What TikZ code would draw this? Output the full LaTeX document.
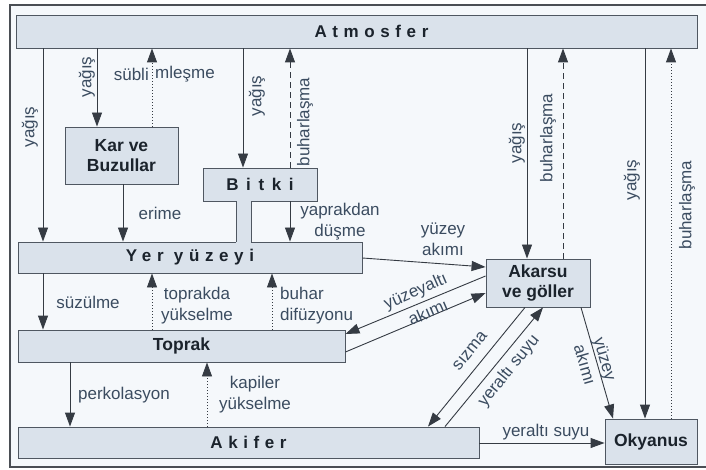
\documentclass[tikz,border=0pt]{standalone}
\usepackage{fontspec}
\setmainfont{Liberation Sans}
\usetikzlibrary{arrows.meta}
\definecolor{boxfill}{HTML}{DAE2EB}
\definecolor{boxline}{HTML}{4F5761}
\definecolor{boxtext}{HTML}{1B232C}
\definecolor{lineclr}{HTML}{353B43}
\definecolor{lblclr}{HTML}{3B4C60}
\definecolor{bgc}{HTML}{F5F8FB}
\definecolor{framec}{HTML}{4A4E54}
\begin{document}
\begin{tikzpicture}[x=1pt,y=-1pt,
  box/.style={draw=boxline, fill=boxfill, line width=0.9pt, inner sep=0pt, text=boxtext, align=center,
    font=\fontsize{17.5}{20}\selectfont\bfseries},
  titlebox/.style={box, font=\fontsize{17}{19}\selectfont\bfseries\addfontfeature{LetterSpace=33}},
  flow/.style={draw=lineclr, line width=0.9pt, -{Triangle[length=14pt,width=10pt]}},
  evap/.style={flow, dash pattern=on 6pt off 4pt},
  dots/.style={flow, dash pattern=on 1pt off 2pt},
  lbl/.style={text=lblclr, font=\fontsize{17}{21}\selectfont, inner sep=0pt, align=center}]
\useasboundingbox (0,0) rectangle (706,470);
\clip (0,0) rectangle (706,470);
\fill[white] (0,0) rectangle (706,470);
\fill[bgc] (10,5) rectangle (720,467);
\draw[line width=1.3pt, draw=framec] (720,5) -- (10,5) -- (10,467) -- (720,467);

% boxes
\node[titlebox, minimum width=681pt, minimum height=33pt] (atm) at (356.5,31.5) {\hspace*{30pt}Atmosfer};
\node[box, minimum width=113pt, minimum height=57pt] (kar) at (121.5,155.5) {Kar ve\\Buzullar};
\node[titlebox, minimum width=344pt, minimum height=31pt] (yer) at (190,257.5) {Yer yüzeyi};
\node[titlebox, minimum width=114pt, minimum height=33pt] (bitki) at (260,184.5) {\addfontfeature{LetterSpace=45}Bitki};
\node[box, minimum width=104pt, minimum height=48pt] (akarsu) at (538,283) {Akarsu\\ve göller};
\node[box, minimum width=327pt, minimum height=32pt] (toprak) at (181.5,346) {Toprak};
\node[titlebox, minimum width=461pt, minimum height=31pt] (akifer) at (248.5,442.5) {Akifer};
\node[box, minimum width=92pt, minimum height=45pt] (okyanus) at (651,441.5) {Okyanus};

% Bitki stem
\fill[boxfill] (236.45,199.5) rectangle (250.55,243.5);
\draw[draw=boxline, line width=0.9pt] (bitki.south -| 236,0) -- (yer.north -| 236,0);
\draw[draw=boxline, line width=0.9pt] (bitki.south -| 251,0) -- (yer.north -| 251,0);

% atmosphere links
\draw[flow] (atm.south -| 43,0) -- (yer.north -| 43,0);
\node[lbl, rotate=90] (l1) at (30,127) {yağış};
\draw[flow] (atm.south -| 97,0) -- (kar.north -| 97,0);
\node[lbl, rotate=90] (l2) at (87,77) {yağış};
\draw[dots] (kar.north -| 152,0) -- (atm.south -| 152,0);
\node[lbl, anchor=east] (l3a) at (149,74) {sübli};
\node[lbl, anchor=west] (l3b) at (155,74) {mleşme};
\draw[flow] (atm.south -| 243,0) -- (bitki.north -| 243,0);
\node[lbl, rotate=90] (l4) at (257,96) {yağış};
\draw[evap] (bitki.north -| 290,0) -- (atm.south -| 290,0);
\node[lbl, rotate=90] (l5) at (305,122) {buharlaşma};
\draw[flow] (kar.south -| 123,0) -- (yer.north -| 123,0);
\node[lbl] (l6) at (160,213) {erime};
\draw[flow] (bitki.south -| 290,0) -- (yer.north -| 290,0);
\node[lbl] (l7) at (340,222) {yaprakdan\\düşme};
\draw[flow] (yer.east |- 0,258) -- (akarsu.west |- 0,267);
\node[lbl] (l8) at (443,239) {yüzey\\akımı};
\draw[flow] (atm.south -| 527,0) -- (akarsu.north -| 527,0);
\node[lbl, rotate=90] (l9) at (517,143) {yağış};
\draw[evap] (akarsu.north -| 563,0) -- (atm.south -| 563,0);
\node[lbl, rotate=90] (l10) at (548,138) {buharlaşma};
\draw[flow] (atm.south -| 645,0) -- (okyanus.north -| 645,0);
\node[lbl, rotate=90] (l11) at (632,180) {yağış};
\draw[dots] (okyanus.north -| 671,0) -- (atm.south -| 671,0);
\node[lbl, rotate=90] (l12) at (687,205) {buharlaşma};

% soil links
\draw[flow] (yer.south -| 43,0) -- (toprak.north -| 43,0);
\node[lbl] (l13) at (88,302) {süzülme};
\draw[dots] (toprak.north -| 152,0) -- (yer.south -| 152,0);
\node[lbl] (l14) at (197,306) {toprakda\\yükselme};
\draw[dots] (toprak.north -| 272,0) -- (yer.south -| 272,0);
\node[lbl, align=left, anchor=west] (l15) at (280,306) {buhar\\difüzyonu};
\draw[flow] (akarsu.west |- 0,276) -- (toprak.east |- 0,334);
\draw[flow] (toprak.east |- 0,352) -- (akarsu.west |- 0,293);
\node[lbl, rotate=23.5] (l16a) at (416,292) {yüzeyaltı};
\node[lbl, rotate=23.5] (l16b) at (428,312) {akımı};
\draw[flow] (toprak.south -| 70,0) -- (akifer.north -| 70,0);
\node[lbl] (l17) at (124,395) {perkolasyon};
\draw[dots] (akifer.north -| 207,0) -- (toprak.south -| 207,0);
\node[lbl] (l18) at (255,395) {kapiler\\yükselme};

% groundwater
\draw[flow] (akarsu.south -| 525,0) -- (akifer.north -| 428,0);
\draw[flow] (akifer.north -| 445,0) -- (akarsu.south -| 543,0);
\node[lbl, rotate=51] (l19) at (470,351) {sızma};
\node[lbl, rotate=51] (l20) at (509,371) {yeraltı suyu};
\draw[flow] (akarsu.south -| 581,0) -- (okyanus.north -| 613,0);
\node[lbl, rotate=-74] (l21) at (595,362) {yüzey\\akımı};
\draw[flow] (akifer.east |- 0,443) -- (okyanus.west |- 0,443);
\node[lbl] (l22) at (546,432) {yeraltı suyu};
\end{tikzpicture}
\end{document}
